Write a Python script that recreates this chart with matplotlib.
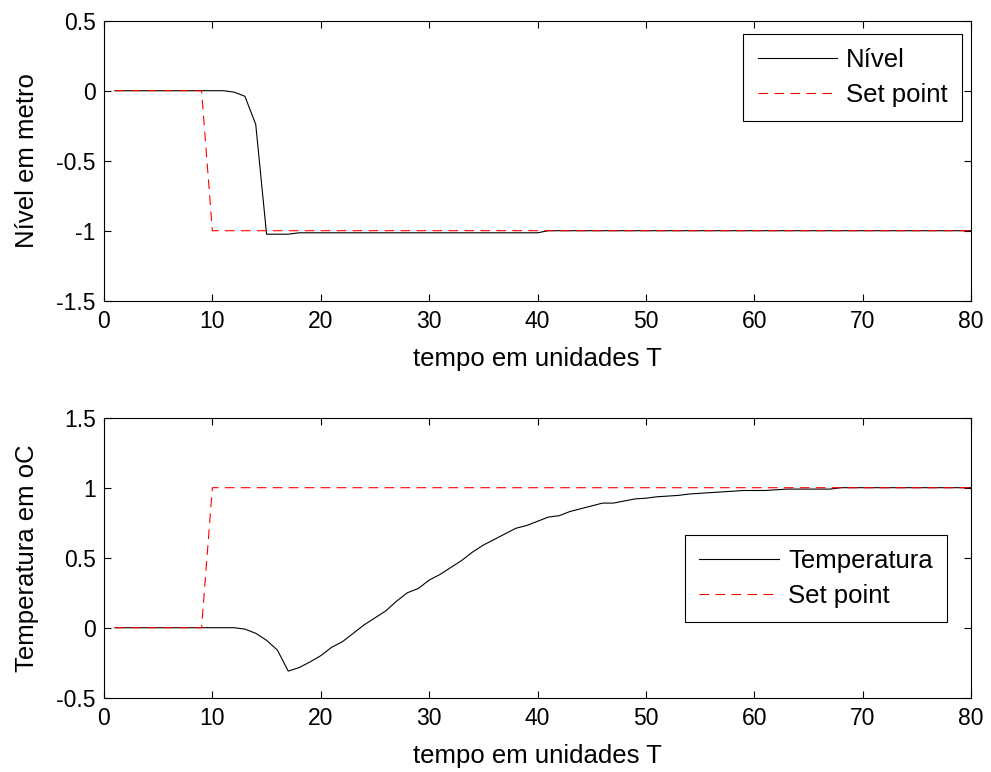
import numpy as np
import matplotlib
matplotlib.use("Agg")
import matplotlib.pyplot as plt

plt.rcParams["font.family"] = ["Liberation Sans", "DejaVu Sans"]
plt.rcParams["lines.scale_dashes"] = False

# tempo (unidades T)
t = list(range(1, 81))

# nível (m) e set point
nivel = ([0.0] * 11 + [-0.01, -0.04, -0.24, -1.025, -1.025, -1.025]
         + [-1.015] * 23 + [-1.0] * 40)
sp_nivel = [0.0] * 9 + [-1.0] * 71

# temperatura (oC) e set point
temp = ([0.0] * 12
        + [-0.01, -0.04, -0.09, -0.16, -0.31, -0.285, -0.245, -0.20, -0.14,
           -0.10, -0.04, 0.02, 0.07, 0.12, 0.19, 0.25, 0.28, 0.34, 0.38,
           0.43, 0.48, 0.54, 0.59, 0.63, 0.67, 0.71, 0.73, 0.76, 0.79,
           0.80, 0.83, 0.85, 0.87, 0.89, 0.89, 0.905, 0.92, 0.925, 0.935,
           0.94, 0.945, 0.955, 0.96, 0.965, 0.97, 0.975, 0.98, 0.98, 0.98,
           0.985, 0.99, 0.99, 0.99, 0.99, 0.99]
        + [1.0] * 13)
sp_temp = [0.0] * 9 + [1.0] * 71

FS_TICK = 16.5
FS = 18.5
DASH = (0, (7, 4.5))

fig = plt.figure(figsize=(9.91, 7.72), dpi=100)
ax1 = fig.add_axes([104 / 991, 1 - 300.7 / 772, 867 / 991, 280 / 772])
ax2 = fig.add_axes([104 / 991, 1 - 697.7 / 772, 867 / 991, 280 / 772])

ax1.plot(t, nivel, color="black", lw=0.8, label="Nível")
ax1.plot(t, sp_nivel, color="red", lw=0.8, ls=DASH, label="Set point")
ax1.set_ylim(-1.5, 0.5)
ax1.set_yticks([-1.5, -1, -0.5, 0, 0.5])
ax1.set_yticklabels(["-1.5", "-1", "-0.5", "0", "0.5"])
ax1.set_ylabel("Nível em metro", fontsize=FS, labelpad=12)

ax2.plot(t, temp, color="black", lw=0.8, label="Temperatura")
ax2.plot(t, sp_temp, color="red", lw=0.8, ls=DASH, label="Set point")
ax2.set_ylim(-0.5, 1.5)
ax2.set_yticks([-0.5, 0, 0.5, 1, 1.5])
ax2.set_yticklabels(["-0.5", "0", "0.5", "1", "1.5"])
ax2.set_ylabel("Temperatura em oC", fontsize=FS, labelpad=12)

for ax in (ax1, ax2):
    ax.set_xlim(0, 80)
    ax.set_xticks(range(0, 81, 10))
    ax.set_xlabel("tempo em unidades T", fontsize=FS, labelpad=9.5)
    ax.tick_params(direction="in", length=5, width=0.8, labelsize=FS_TICK,
                   top=True, right=True)
    ax.tick_params(axis="x", pad=7)
    ax.tick_params(axis="y", pad=6)
    for s in ax.spines.values():
        s.set_linewidth(0.8)

leg_kw = dict(loc="upper right", fontsize=FS, handlelength=3.1,
              handletextpad=0.35, fancybox=False, framealpha=1,
              edgecolor="black", borderpad=0.55, labelspacing=0.42,
              borderaxespad=0)
leg1 = ax1.legend(bbox_to_anchor=(0.9896, 0.9525), **leg_kw)
leg1.get_frame().set_linewidth(0.8)
leg2 = ax2.legend(bbox_to_anchor=(0.972, 0.581), **leg_kw)
leg2.get_frame().set_linewidth(0.8)

fig.savefig("out.png", dpi=100)
